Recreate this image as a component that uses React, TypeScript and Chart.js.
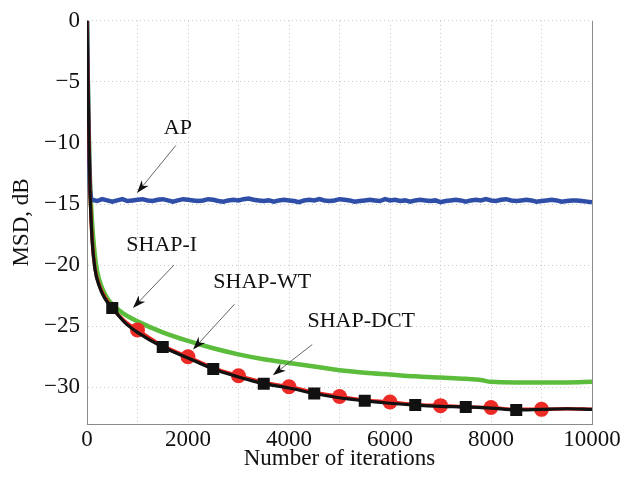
import { useEffect, useRef } from "react";
import { Chart, registerables } from "chart.js";

Chart.register(...registerables);

// ---- data ----
const apIter = [0, 20, 40, 60, 80,
  100, 200, 300, 400, 500, 600, 700, 800, 900, 1000,
  1100, 1200, 1300, 1400, 1500, 1600, 1700, 1800, 1900, 2000,
  2100, 2200, 2300, 2400, 2500, 2600, 2700, 2800, 2900, 3000,
  3100, 3200, 3300, 3400, 3500, 3600, 3700, 3800, 3900, 4000,
  4100, 4200, 4300, 4400, 4500, 4600, 4700, 4800, 4900, 5000,
  5100, 5200, 5300, 5400, 5500, 5600, 5700, 5800, 5900, 6000,
  6100, 6200, 6300, 6400, 6500, 6600, 6700, 6800, 6900, 7000,
  7100, 7200, 7300, 7400, 7500, 7600, 7700, 7800, 7900, 8000,
  8100, 8200, 8300, 8400, 8500, 8600, 8700, 8800, 8900, 9000,
  9100, 9200, 9300, 9400, 9500, 9600, 9700, 9800, 9900, 10000];
const apMSD = [0, -6, -11, -13.8, -14.5,
  -14.65, -14.75, -14.6, -14.7, -14.8, -14.7, -14.6, -14.75, -14.7, -14.65,
  -14.6, -14.7, -14.75, -14.65, -14.6, -14.7, -14.8, -14.7, -14.6, -14.65,
  -14.7, -14.75, -14.7, -14.6, -14.65, -14.75, -14.8, -14.7, -14.65, -14.7,
  -14.6, -14.55, -14.65, -14.7, -14.75, -14.7, -14.8, -14.7, -14.65, -14.7,
  -14.75, -14.85, -14.7, -14.65, -14.7, -14.6, -14.7, -14.75, -14.7, -14.6,
  -14.65, -14.7, -14.8, -14.75, -14.7, -14.65, -14.7, -14.75, -14.6, -14.7,
  -14.65, -14.75, -14.7, -14.8, -14.7, -14.65, -14.7, -14.75, -14.7, -14.85,
  -14.75, -14.7, -14.65, -14.7, -14.8, -14.7, -14.65, -14.7, -14.6, -14.7,
  -14.75, -14.65, -14.6, -14.7, -14.75, -14.7, -14.65, -14.7, -14.8, -14.75,
  -14.7, -14.65, -14.7, -14.8, -14.75, -14.7, -14.7, -14.75, -14.8, -14.85];

const shapIIter = [0, 20, 50, 100, 150, 200, 300, 400, 500, 700, 1000, 1500, 2000, 2500, 3000, 3500, 4000, 4500, 5000, 5500, 6000, 6500, 7000, 7500, 7800, 8000, 8500, 9000, 9500, 10000];
const shapIMSD = [0, -6, -12, -16.5, -19, -20.5, -21.9, -22.7, -23.2, -23.9, -24.6, -25.5, -26.2, -26.8, -27.3, -27.7, -28.0, -28.3, -28.6, -28.8, -28.95, -29.1, -29.2, -29.3, -29.4, -29.55, -29.6, -29.6, -29.6, -29.55];

const shapIter = [0, 20, 40, 60, 100, 160, 250, 350, 500, 750, 1000, 1500, 2000, 2500, 3000, 3500, 4000, 4500, 5000, 5500, 6000, 6500, 7000, 7500, 8000, 8500, 9000, 9500, 10000];
const shapWTMSD = [0, -5.5, -10, -13.8, -17.8, -20.3, -21.7, -22.6, -23.5, -24.6, -25.3, -26.6, -27.5, -28.4, -29.05, -29.6, -29.95, -30.4, -30.75, -31.05, -31.2, -31.4, -31.5, -31.6, -31.65, -31.8, -31.8, -31.75, -31.8];
const shapDCTMSD = [0, -5.5, -10, -13.9, -17.9, -20.4, -21.8, -22.7, -23.5, -24.7, -25.5, -26.7, -27.6, -28.5, -29.15, -29.7, -30.05, -30.5, -30.85, -31.1, -31.3, -31.45, -31.55, -31.6, -31.7, -31.85, -31.8, -31.75, -31.8];

const wtMarkerIter = [1000, 2000, 3000, 4000, 5000, 6000, 7000, 8000, 9000];
const dctMarkerIter = [500, 1500, 2500, 3500, 4500, 5500, 6500, 7500, 8500];

const annLabels = ["AP", "SHAP-I", "SHAP-WT", "SHAP-DCT"];
const annTextX = [1800, 1480, 3470, 5430];
const annTextY = [-8.8, -18.4, -21.4, -24.6];
const annFromX = [1760, 1720, 2920, 4460];
const annFromY = [-10.2, -20.0, -23.2, -26.5];
const annTipX = [990, 910, 2100, 3680];
const annTipY = [-14.1, -23.5, -26.9, -29.0];

const FONT = "'Liberation Serif', 'Times New Roman', serif";

const pts = (xs: number[], ys: number[]) => xs.map((x, i) => ({ x, y: ys[i] }));

const annotationPlugin = {
  id: "arrows",
  afterDatasetsDraw(chart: any) {
    const { ctx, scales } = chart;
    const xs = scales.x, ys = scales.y;
    ctx.save();
    ctx.font = `22px ${FONT}`;
    ctx.textAlign = "center";
    ctx.textBaseline = "middle";
    ctx.fillStyle = "#111";
    annLabels.forEach((lab, i) => {
      ctx.fillStyle = "#111";
      ctx.fillText(lab, xs.getPixelForValue(annTextX[i]), ys.getPixelForValue(annTextY[i]));
      const x0 = xs.getPixelForValue(annFromX[i]);
      const y0 = ys.getPixelForValue(annFromY[i]);
      const x1 = xs.getPixelForValue(annTipX[i]);
      const y1 = ys.getPixelForValue(annTipY[i]);
      const ang = Math.atan2(y1 - y0, x1 - x0);
      const L = 13, W = 4.5;
      ctx.strokeStyle = "#555";
      ctx.lineWidth = 0.9;
      ctx.beginPath();
      ctx.moveTo(x0, y0);
      ctx.lineTo(x1 - Math.cos(ang) * L * 0.6, y1 - Math.sin(ang) * L * 0.6);
      ctx.stroke();
      const bx = x1 - Math.cos(ang) * L, by = y1 - Math.sin(ang) * L;
      const nx = -Math.sin(ang), ny = Math.cos(ang);
      const mx = x1 - Math.cos(ang) * L * 0.7, my = y1 - Math.sin(ang) * L * 0.7;
      ctx.beginPath();
      ctx.moveTo(x1, y1);
      ctx.lineTo(bx + nx * W, by + ny * W);
      ctx.lineTo(mx, my);
      ctx.lineTo(bx - nx * W, by - ny * W);
      ctx.closePath();
      ctx.fill();
    });
    ctx.restore();
  },
  afterDraw(chart: any) {
    const { ctx, chartArea } = chart;
    ctx.save();
    ctx.strokeStyle = "#8a8a8a";
    ctx.lineWidth = 1;
    ctx.beginPath();
    ctx.moveTo(chartArea.right + 0.5, chartArea.top);
    ctx.lineTo(chartArea.right + 0.5, chartArea.bottom);
    ctx.stroke();
    ctx.restore();
  },
};

export default function App() {
  const ref = useRef<HTMLCanvasElement | null>(null);
  useEffect(() => {
    if (!ref.current) return;
    const chart = new Chart(ref.current, {
      type: "line",
      data: {
        datasets: [
          {
            label: "SHAP-I",
            order: 4,
            data: pts(shapIIter, shapIMSD),
            borderColor: "#5cbd3c",
            borderWidth: 4.5,
            pointRadius: 0,
            cubicInterpolationMode: "monotone",
          },
          {
            label: "AP",
            order: 3,
            data: pts(apIter, apMSD),
            borderColor: "#2e4ea8",
            borderWidth: 4.5,
            pointRadius: 0,
            tension: 0,
          },
          {
            label: "SHAP-WT",
            order: 2,
            data: pts(shapIter, shapWTMSD),
            borderColor: "#e8231c",
            backgroundColor: "#ec2a26",
            borderWidth: 3.5,
            cubicInterpolationMode: "monotone",
            pointStyle: "circle",
            pointRadius: (c: any) => (wtMarkerIter.includes(c.raw?.x) ? 7.5 : 0),
            pointBorderWidth: 0,
            pointBorderColor: "#ec2a26",
          },
          {
            label: "SHAP-DCT",
            order: 1,
            data: pts(shapIter, shapDCTMSD),
            borderColor: "#111",
            backgroundColor: "#111",
            borderWidth: 3.2,
            cubicInterpolationMode: "monotone",
            pointStyle: "rect",
            pointRadius: (c: any) => (dctMarkerIter.includes(c.raw?.x) ? 8.5 : 0),
            pointBorderWidth: 0,
            pointBorderColor: "#111",
          },
        ],
      },
      options: {
        animation: false,
        responsive: false,
        parsing: false as any,
        layout: { padding: { top: 19, right: 46, left: 0, bottom: 0 } },
        plugins: { legend: { display: false }, tooltip: { enabled: false } },
        scales: {
          x: {
            type: "linear",
            min: 0,
            max: 10000,
            afterFit: (s: any) => { s.height = 53; },
            ticks: {
              stepSize: 1000,
              autoSkip: false,
              maxRotation: 0,
              padding: 2,
              color: "#111",
              font: { family: FONT, size: 23 },
              callback: (v: any) => (Number(v) % 2000 === 0 ? String(v) : ""),
            },
            grid: { color: "#c8c8c8", drawTicks: false, lineWidth: 1 },
            border: { color: "#8a8a8a", dash: [1, 3] },
            title: {
              display: true,
              text: "Number of iterations",
              color: "#111",
              font: { family: FONT, size: 23 },
              padding: { top: 0, bottom: 4 },
            },
          },
          y: {
            type: "linear",
            min: -33,
            max: 0,
            afterFit: (s: any) => { s.width = 87; },
            afterBuildTicks: (s: any) => { s.ticks = s.ticks.filter((t: any) => t.value % 5 === 0); },
            ticks: {
              stepSize: 5,
              padding: 7,
              color: "#111",
              font: { family: FONT, size: 23 },
              callback: (v: any) => (Number(v) < 0 ? "\u2212" + Math.abs(Number(v)) : String(v)),
            },
            grid: { color: "#c8c8c8", drawTicks: false, lineWidth: 1 },
            border: { color: "#8a8a8a", dash: [1, 3] },
            title: {
              display: true,
              text: "MSD, dB",
              color: "#111",
              font: { family: FONT, size: 23 },
              padding: { top: 8, bottom: 0 },
            },
          },
        },
      },
      plugins: [annotationPlugin],
    });
    return () => chart.destroy();
  }, []);
  return (
    <div style={{ position: "fixed", left: 0, top: 0, width: 638, height: 477, background: "#fff" }}>
      <canvas ref={ref} width={638} height={477} style={{ width: 638, height: 477, display: "block" }} />
    </div>
  );
}
